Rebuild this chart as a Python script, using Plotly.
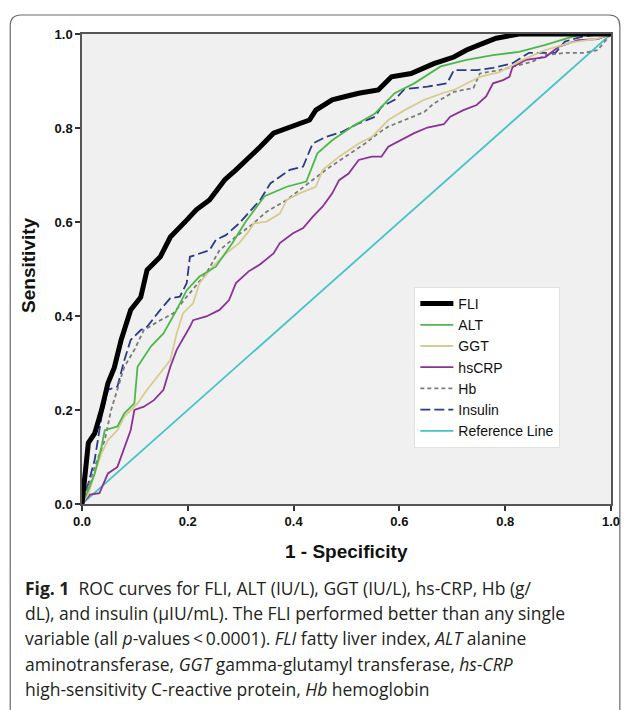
import plotly.graph_objects as go

# ---------------- data ----------------
fli_x = [0, 0.006, 0.012, 0.024, 0.037, 0.049, 0.061, 0.074, 0.092, 0.111, 0.123, 0.148, 0.167, 0.198, 0.216,
         0.241, 0.27, 0.29, 0.312, 0.337, 0.362, 0.399, 0.430, 0.442, 0.473, 0.498, 0.523, 0.56, 0.585, 0.622,
         0.665, 0.703, 0.727, 0.758, 0.783, 0.826, 1.0]
fli_y = [0, 0.058, 0.13, 0.15, 0.20, 0.257, 0.29, 0.349, 0.413, 0.44, 0.498, 0.526, 0.568, 0.604, 0.626,
         0.647, 0.69, 0.71, 0.732, 0.760, 0.789, 0.803, 0.817, 0.838, 0.860, 0.867, 0.874, 0.881, 0.909, 0.916,
         0.937, 0.951, 0.966, 0.980, 0.991, 1.0, 1.0]

alt_x = [0, 0.012, 0.024, 0.037, 0.043, 0.067, 0.080, 0.099, 0.105, 0.130, 0.154, 0.179, 0.198, 0.222, 0.253,
         0.284, 0.309, 0.345, 0.387, 0.424, 0.445, 0.473, 0.511, 0.554, 0.591, 0.628, 0.678, 0.727, 0.777, 0.826,
         0.876, 0.926, 0.95, 1.0]
alt_y = [0, 0.03, 0.065, 0.122, 0.157, 0.165, 0.193, 0.214, 0.292, 0.335, 0.363, 0.413, 0.455, 0.484, 0.505,
         0.555, 0.600, 0.655, 0.675, 0.686, 0.746, 0.774, 0.803, 0.831, 0.874, 0.895, 0.931, 0.945, 0.955, 0.962,
         0.977, 0.994, 1.0, 1.0]

ggt_x = [0, 0.012, 0.024, 0.037, 0.049, 0.067, 0.080, 0.105, 0.123, 0.142, 0.167, 0.179, 0.191, 0.210, 0.222,
         0.247, 0.272, 0.297, 0.315, 0.325, 0.349, 0.374, 0.387, 0.411, 0.442, 0.455, 0.486, 0.523, 0.548, 0.579,
         0.610, 0.647, 0.684, 0.703, 0.752, 0.789, 0.833, 0.876, 0.926, 0.975, 1.0]
ggt_y = [0, 0.021, 0.065, 0.108, 0.136, 0.157, 0.186, 0.214, 0.243, 0.271, 0.306, 0.363, 0.406, 0.427, 0.470,
         0.505, 0.533, 0.555, 0.580, 0.597, 0.601, 0.618, 0.647, 0.661, 0.675, 0.711, 0.739, 0.767, 0.781, 0.817,
         0.838, 0.860, 0.875, 0.881, 0.909, 0.919, 0.945, 0.966, 0.982, 0.99, 1.0]

crp_x = [0, 0.015, 0.033, 0.049, 0.067, 0.080, 0.092, 0.099, 0.117, 0.136, 0.154, 0.167, 0.179, 0.204, 0.210,
         0.235, 0.260, 0.278, 0.291, 0.315, 0.337, 0.362, 0.374, 0.399, 0.418, 0.436, 0.455, 0.473, 0.486, 0.504,
         0.523, 0.548, 0.566, 0.579, 0.603, 0.628, 0.653, 0.684, 0.696, 0.721, 0.746, 0.764, 0.777, 0.796, 0.808,
         0.814, 0.839, 0.876, 0.901, 0.938, 0.975, 1.0]
crp_y = [0, 0.02, 0.023, 0.065, 0.079, 0.122, 0.157, 0.20, 0.207, 0.221, 0.243, 0.292, 0.328, 0.377, 0.391,
         0.399, 0.413, 0.434, 0.470, 0.495, 0.510, 0.533, 0.555, 0.576, 0.587, 0.611, 0.633, 0.661, 0.689, 0.703,
         0.732, 0.739, 0.739, 0.760, 0.774, 0.789, 0.801, 0.808, 0.824, 0.838, 0.849, 0.867, 0.895, 0.902, 0.909,
         0.930, 0.945, 0.951, 0.973, 0.987, 0.989, 1.0]

hb_x = [0, 0.012, 0.024, 0.043, 0.055, 0.067, 0.080, 0.099, 0.117, 0.148, 0.173, 0.198, 0.235, 0.260, 0.291,
        0.322, 0.349, 0.387, 0.424, 0.461, 0.498, 0.535, 0.560, 0.579, 0.610, 0.647, 0.665, 0.703, 0.740, 0.752,
        0.789, 0.814, 0.851, 0.876, 0.913, 0.950, 0.975, 1.0]
hb_y = [0, 0.037, 0.079, 0.136, 0.20, 0.243, 0.292, 0.328, 0.370, 0.391, 0.406, 0.441, 0.491, 0.540, 0.569,
        0.595, 0.622, 0.647, 0.679, 0.711, 0.739, 0.767, 0.789, 0.803, 0.817, 0.834, 0.852, 0.877, 0.885, 0.916,
        0.923, 0.930, 0.941, 0.955, 0.960, 0.960, 0.966, 1.0]

ins_x = [0, 0.012, 0.024, 0.037, 0.049, 0.067, 0.080, 0.092, 0.111, 0.123, 0.148, 0.167, 0.185, 0.198, 0.204,
         0.222, 0.241, 0.253, 0.272, 0.297, 0.320, 0.337, 0.356, 0.374, 0.393, 0.418, 0.436, 0.461, 0.492, 0.523,
         0.554, 0.566, 0.591, 0.610, 0.653, 0.690, 0.703, 0.746, 0.777, 0.814, 0.845, 0.895, 0.913, 0.944, 0.98, 1.0]
ins_y = [0, 0.044, 0.094, 0.186, 0.243, 0.250, 0.306, 0.349, 0.370, 0.377, 0.413, 0.438, 0.441, 0.470, 0.526,
         0.533, 0.540, 0.562, 0.572, 0.597, 0.625, 0.647, 0.682, 0.697, 0.711, 0.718, 0.767, 0.781, 0.792, 0.810,
         0.824, 0.845, 0.860, 0.883, 0.888, 0.895, 0.923, 0.923, 0.928, 0.938, 0.960, 0.960, 0.984, 0.994, 1.0, 1.0]

ref_x = [0, 1]
ref_y = [0, 1]

tick_vals = [0.0, 0.2, 0.4, 0.6, 0.8, 1.0]
tick_text = ["0.0", "0.2", "0.4", "0.6", "0.8", "1.0"]

caption_lines = [
    "<b>Fig. 1</b>\u00a0\u00a0ROC curves for FLI, ALT (IU/L), GGT (IU/L), hs-CRP, Hb (g/",
    "dL), and insulin (\u03bcIU/mL). The FLI performed better than any single",
    "variable (all <i>p</i>-values\u2009<\u20090.0001). <i>FLI</i> fatty liver index, <i>ALT</i> alanine",
    "aminotransferase, <i>GGT</i> gamma-glutamyl transferase, <i>hs-CRP</i>",
    "high-sensitivity C-reactive protein, <i>Hb</i> hemoglobin",
]

# ---------------- layout helpers (window pixel -> paper) ----------------
OFF = 8                      # page body margin in the browser
W, H = 632 - OFF, 710 - OFF
X0, X1, Y1, Y0 = 82, 620, 34, 504   # plot area in window pixels
ML, MR, MT, MB = X0 - OFF, 632 - X1, Y1 - OFF, H - (Y0 - OFF)
PW, PH = X1 - X0, Y0 - Y1


def px_x(p):
    return (p - X0) / PW


def px_y(p):
    return (Y0 - p) / PH


fig = go.Figure()

series = [
    ("Reference Line", ref_x, ref_y, "#45c3c6", 1.8, "solid"),
    ("Insulin", ins_x, ins_y, "#2b3a8a", 1.8, "10px,4px"),
    ("Hb", hb_x, hb_y, "#7a7a7a", 1.8, "4px,3px"),
    ("hsCRP", crp_x, crp_y, "#8a3296", 1.8, "solid"),
    ("GGT", ggt_x, ggt_y, "#d6cc90", 1.8, "solid"),
    ("ALT", alt_x, alt_y, "#4cb84a", 1.8, "solid"),
    ("FLI", fli_x, fli_y, "#000000", 5, "solid"),
]
for name, xs, ys, col, w, dash in series:
    fig.add_trace(go.Scatter(x=xs, y=ys, mode="lines", name=name,
                             line=dict(color=col, width=w, dash=dash)))

axis_common = dict(
    range=[0, 1], showgrid=False, zeroline=False, showline=True, linecolor="#555555",
    linewidth=1.5, mirror=True, ticks="outside", ticklen=5, tickwidth=1.5, tickcolor="#333333",
    tickvals=tick_vals, ticktext=tick_text,
    tickfont=dict(family="Liberation Sans, Arial", size=13, color="#111111", weight="bold"),
)

fig.update_layout(
    width=W, height=H,
    margin=dict(l=ML, r=MR, t=MT, b=MB, pad=0),
    paper_bgcolor="white", plot_bgcolor="#f0f0f0",
    xaxis=axis_common, yaxis=axis_common,
    showlegend=True,
    legend=dict(
        x=px_x(420), y=px_y(287), xanchor="left", yanchor="top",
        bgcolor="white", bordercolor="#e2e2e2", borderwidth=1,
        font=dict(family="Liberation Sans, Arial", size=14, color="#111111"),
        traceorder="reversed", itemwidth=33,
    ),
)

# axis titles
fig.add_annotation(text="<b>1 - Specificity</b>", xref="paper", yref="paper",
                   x=px_x(351), y=px_y(551), xanchor="center", yanchor="middle", showarrow=False,
                   font=dict(family="Liberation Sans, Arial", size=19, color="#111111"))
fig.add_annotation(text="<b>Sensitivity</b>", xref="paper", yref="paper", textangle=-90,
                   x=px_x(27), y=px_y(265), xanchor="center", yanchor="middle", showarrow=False,
                   font=dict(family="Liberation Sans, Arial", size=19, color="#111111"))

# caption
cap_y = [588, 613, 638, 664, 689]
for txt, yy in zip(caption_lines, cap_y):
    fig.add_annotation(text=txt, xref="paper", yref="paper", x=px_x(22), y=px_y(yy),
                       xanchor="left", yanchor="middle", showarrow=False, align="left",
                       font=dict(family="Open Sans", size=17.5, color="#231f20"))

# rounded outer frame
L, R, T, B, r = 9, 629, 15, 740, 11
path = (f"M {px_x(L + r)},{px_y(T)} L {px_x(R - r)},{px_y(T)} "
        f"Q {px_x(R)},{px_y(T)} {px_x(R)},{px_y(T + r)} L {px_x(R)},{px_y(B)} "
        f"L {px_x(L)},{px_y(B)} L {px_x(L)},{px_y(T + r)} "
        f"Q {px_x(L)},{px_y(T)} {px_x(L + r)},{px_y(T)}")
fig.add_shape(type="path", path=path, xref="paper", yref="paper",
              line=dict(color="#6a6a6a", width=1.2), layer="below")

fig.write_html("out.html")
